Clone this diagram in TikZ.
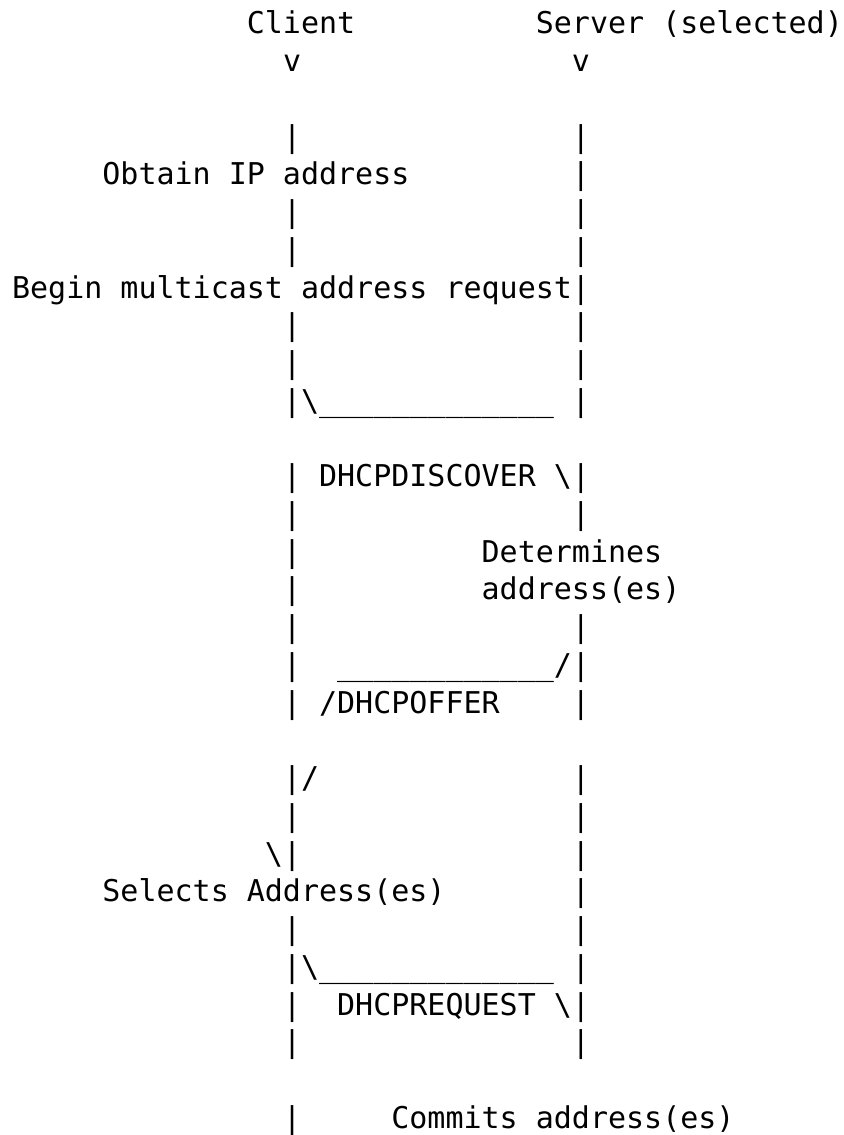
\documentclass[tikz,border=0pt]{standalone}
\usepackage{fontspec}
\setmonofont{DejaVu Sans Mono}
\usepackage{tikz}
\frenchspacing

\tikzset{
    ascii/.style={inner sep=0pt, outer sep=0pt, anchor=base west,
        font=\ttfamily\fontsize{22.5}{28}\selectfont}
}

\begin{document}
\begin{tikzpicture}[x=13.545pt, y=-28.3pt, every node/.style={ascii}]

        % one unit = one character cell (column, row)
        \def\cl{15}
        \def\sl{31}
        \def\us{\_\_\_\_\_\_\_\_\_\_\_\_}

        \useasboundingbox (-0.67, -0.9) rectangle (46.06, 29.18);

        % heads
        \node (client) at (13, 0) {Client};
        \node (server) at (29, 0) {Server (selected)};
        \node (clientv) at (\cl, 1) {v};
        \node (serverv) at (\sl, 1) {v};

        % life lines
        \foreach \r in {3,5,6,8,9,10,12,13,14,15,16,17,18,20,21,22,24,25,26,27,29}
            \node (cbar-\r) at (\cl, \r) {|};
        \foreach \r in {3,4,5,6,7,8,9,10,12,13,16,17,18,20,21,22,23,24,25,26,27}
            \node (sbar-\r) at (\sl, \r) {|};

        % client side
        \node (obtain) at (5, 4) {Obtain IP address};
        \node (begin) at (0, 7) {Begin multicast address request};

        % DHCPDISCOVER
        \node (discoverline) at (16, 10) {\textbackslash\us\_};
        \node (discover) at (17, 12) {DHCPDISCOVER};
        \node (discovertip) at (30, 12) {\textbackslash};

        % server side
        \node (determines) at (26, 14) {Determines};
        \node (addrs) at (26, 15) {address(es)};

        % DHCPOFFER
        \node (offerline) at (18, 17) {\us/};
        \node (offer) at (17, 18) {/DHCPOFFER};
        \node (offertip) at (16, 20) {/};
        \node (selectin) at (14, 22) {\textbackslash};
        \node (selects) at (5, 23) {Selects Address(es)};

        % DHCPREQUEST
        \node (requestline) at (16, 25) {\textbackslash\us\_};
        \node (request) at (18, 26) {DHCPREQUEST};
        \node (requesttip) at (30, 26) {\textbackslash};
        \node (commits) at (21, 29) {Commits address(es)};

\end{tikzpicture}
\end{document}
